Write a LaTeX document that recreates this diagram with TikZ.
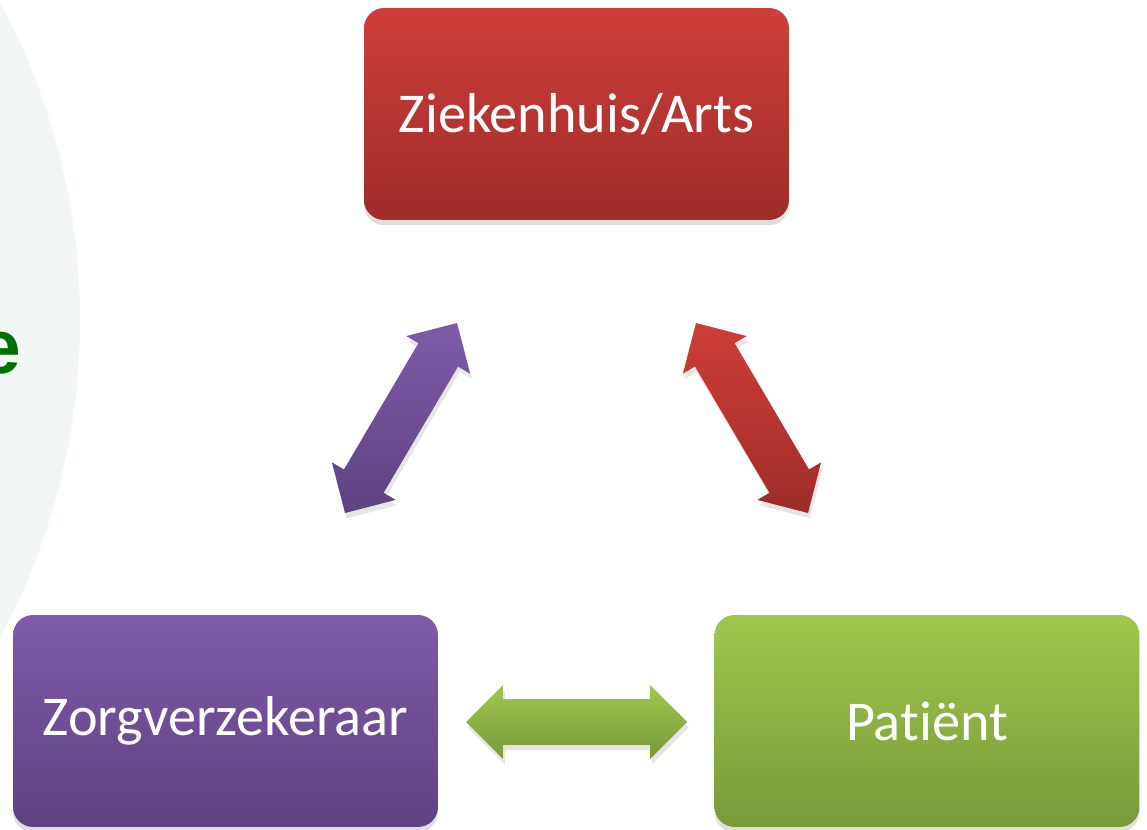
\documentclass[tikz,border=0pt]{standalone}
\usepackage{fontspec}
\setmainfont{Carlito}[Ligatures=NoCommon]
\newfontfamily\headfont{Liberation Sans}
\usetikzlibrary{calc,shadows}

\definecolor{zhtop}{RGB}{207,62,58}
\definecolor{zhbot}{RGB}{158,44,41}
\definecolor{zvtop}{RGB}{127,91,169}
\definecolor{zvbot}{RGB}{94,66,128}
\definecolor{pttop}{RGB}{160,199,77}
\definecolor{ptbot}{RGB}{121,153,58}
\definecolor{bgcircle}{RGB}{242,247,245}
\definecolor{headgreen}{RGB}{0,112,0}

\begin{document}
\begin{tikzpicture}[x=0.02cm,y=-0.02cm,
    box/.style={rounded corners=0.4cm, minimum width=8.5cm, minimum height=4.24cm,
        text=white, font=\fontsize{32}{38}\selectfont,
        drop shadow={shadow xshift=0pt,shadow yshift=-3pt,opacity=0.25}},
    blockarrow/.style={drop shadow={shadow xshift=1pt,shadow yshift=-3pt,opacity=0.2}}]
    \useasboundingbox (0,0) rectangle (1147,830);
    \clip (0,0) rectangle (1147,830);
    \fill[white] (0,0) rectangle (1147,830);
    \fill[bgcircle] (-590,320) circle (13.4cm);
    \node[anchor=base west, inner sep=0pt, text=headgreen,
        font=\headfont\bfseries\fontsize{43.7}{50}\selectfont] (head) at (-22,374) {e};

    \node[box, top color=zhtop, bottom color=zhbot] (zh) at (576.5,114) {Ziekenhuis/Arts};
    \node[box, top color=zvtop, bottom color=zvbot] (zv) at (225.5,721) {Zorgverzekeraar};
    \node[box, top color=pttop, bottom color=ptbot] (pt) at (927,721) {Patiënt};

    % ends of the arrows
    \coordinate (zv-a) at (345,513);
    \coordinate (zh-a) at (457,323);
    \coordinate (zh-b) at (696,323);
    \coordinate (pt-b) at (808,513);
    \coordinate (zv-c) at (466,722);
    \coordinate (pt-c) at (687,722);

    \foreach \s/\e/\ct/\cb in {zv-a/zh-a/zvtop/zvbot, zh-b/pt-b/zhtop/zhbot, zv-c/pt-c/pttop/ptbot}
    {
    \coordinate (p) at ($(\s)!0.74cm!(\e)$);
    \coordinate (q) at ($(\e)!0.74cm!(\s)$);
    \path[blockarrow, top color=\ct, bottom color=\cb]
        (\s) -- ($(p)!0.74cm!90:(\e)$) -- ($(p)!0.46cm!90:(\e)$)
        -- ($(q)!0.46cm!-90:(\s)$) -- ($(q)!0.74cm!-90:(\s)$)
        -- (\e) -- ($(q)!0.74cm!90:(\s)$) -- ($(q)!0.46cm!90:(\s)$)
        -- ($(p)!0.46cm!-90:(\e)$) -- ($(p)!0.74cm!-90:(\e)$) -- cycle;
    }
\end{tikzpicture}
\end{document}
